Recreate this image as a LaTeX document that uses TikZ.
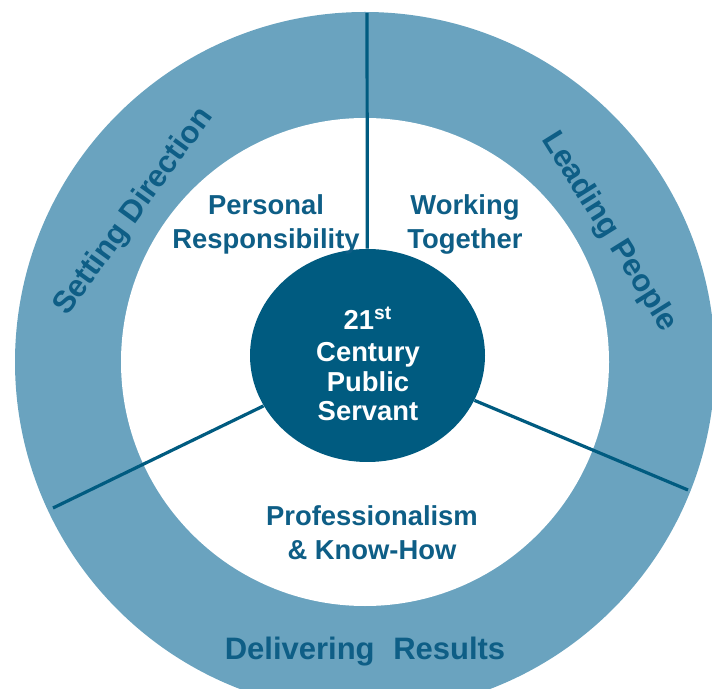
\documentclass[tikz,border=0pt]{standalone}
\usepackage{fontspec}
\setmainfont{Liberation Sans}
\usepackage{xcolor}
\usepackage{tikz}
\usetikzlibrary{shapes.geometric}
\definecolor{vong}{HTML}{6AA3BF}
\definecolor{dam}{HTML}{005B80}
\definecolor{chudam}{HTML}{0E5E86}

\begin{document}
\begin{tikzpicture}[x=0.5pt,y=-0.5pt,
	chu/.style={text=chudam, align=center, font=\fontsize{13.7}{17}\selectfont\bfseries},
	nhan/.style={text=chudam, font=\fontsize{15.5}{18}\selectfont\bfseries},
	duong/.style={dam, line width=1.6pt}]
			\useasboundingbox (0,0) rectangle (712,689);
			% Vẽ vòng tròn
			\fill[vong] (365,362) circle (175pt);
			\fill[white] (365,362) circle (122pt);
			\node[ellipse, fill=dam, minimum width=117.5pt, minimum height=106.5pt, inner sep=0pt] (tam) at (367.5,355.5) {};
			% Vẽ đường chia
			\coordinate (tren) at (367,13);
			\coordinate (trai) at (53,508);
			\coordinate (phai) at (688,490);
			\draw[duong] (tam) -- (tren);
			\draw[duong] (tam) -- (trai);
			\draw[duong] (tam) -- (phai);
			% Vẽ chữ
			\node[chu, text=white, font=\fontsize{13.7}{14.8}\selectfont\bfseries] (ten) at (368,364) {21\textsuperscript{st}\\[1pt] Century\\Public\\Servant};
			\node[chu] (canhan) at (266,224) {Personal\\Responsibility};
			\node[chu] (lamviec) at (465,224) {Working\\Together};
			\node[chu] (chuyenmon) at (372,533) {Professionalism\\\& Know-How};
			\node[nhan, rotate=54] (dinhhuong) at (134,212) {Setting Direction};
			\node[nhan, rotate=-58] (lanhdao) at (609,232) {Leading People};
			\node[nhan] (ketqua) at (365,652) {Delivering\hspace{0.6em}Results};
		\end{tikzpicture}
\end{document}
